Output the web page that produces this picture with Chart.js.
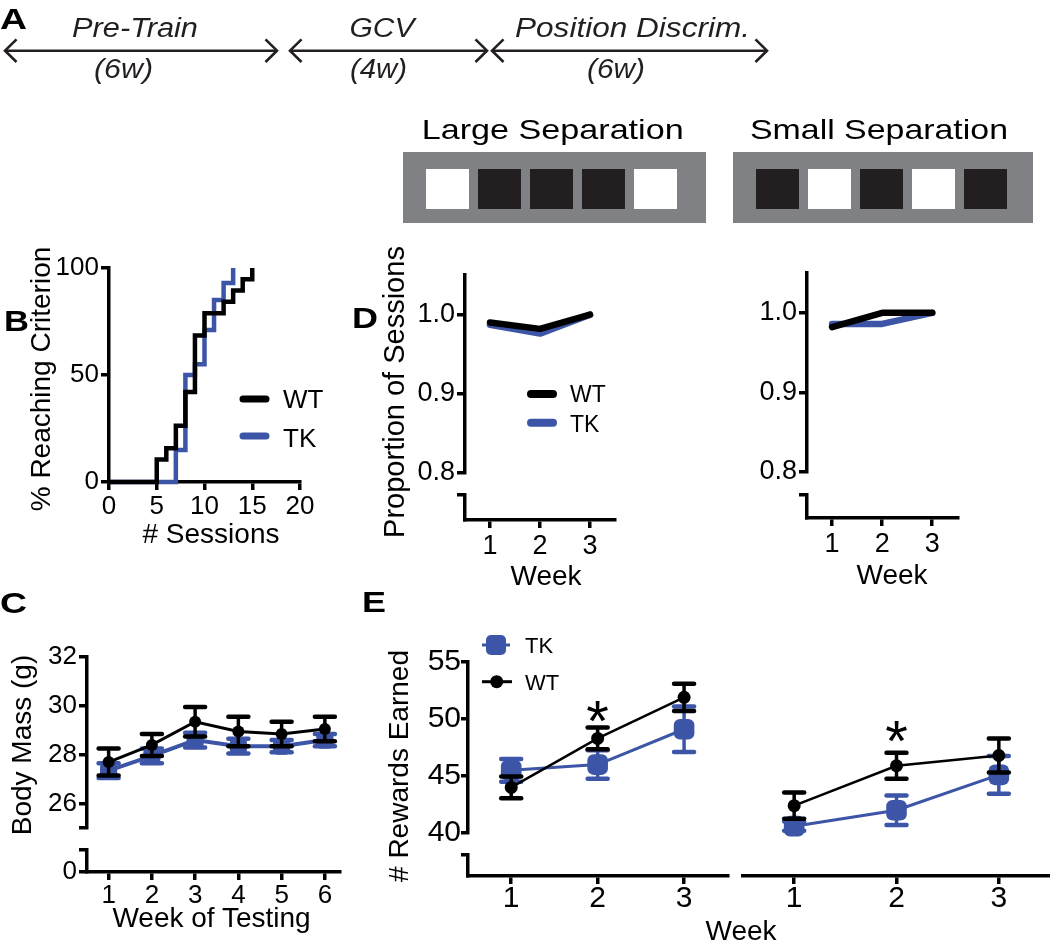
<!DOCTYPE html>
<html lang="en">
<head>
  <meta charset="UTF-8">
  <title>Position discrimination figure</title>
  <script src="https://cdn.jsdelivr.net/npm/chart.js"></script>
  <style>
    body {
      margin: 0;
      width: 1050px;
      height: 943px;
      overflow: hidden;
      position: relative;
      background: #fff;
      font-family: 'Liberation Sans', Arial, sans-serif;
    }
    canvas { position: absolute; z-index: 1; }
    #overlay { position: absolute; left: 0; top: 0; z-index: 2; pointer-events: none; }
  </style>
</head>
<body>
  <!-- static parts: timeline, task schematics, panel letters, axis titles, legends -->
  <svg id="overlay" width="1050" height="943" font-family="'Liberation Sans', Arial, sans-serif" fill="#000">
    <!-- A: timeline -->
    <text x="0" y="28.5" font-size="30" font-weight="bold" textLength="27" lengthAdjust="spacingAndGlyphs">A</text>
    <g stroke="#231f20" stroke-width="2.6" fill="none">
      <line x1="5" y1="50.7" x2="277" y2="50.7"/>
      <polyline points="16.5,39.3 5,50.7 16.5,62"/>
      <polyline points="265.5,39.3 277,50.7 265.5,62"/>
      <line x1="290" y1="50.7" x2="487" y2="50.7"/>
      <polyline points="301.5,39.3 290,50.7 301.5,62"/>
      <polyline points="475.5,39.3 487,50.7 475.5,62"/>
      <line x1="492" y1="50.7" x2="767" y2="50.7"/>
      <polyline points="503.5,39.3 492,50.7 503.5,62"/>
      <polyline points="755.5,39.3 767,50.7 755.5,62"/>
    </g>
    <g font-style="italic" font-size="27" text-anchor="middle" fill="#231f20">
      <text x="135" y="37" textLength="126" lengthAdjust="spacingAndGlyphs">Pre-Train</text>
      <text x="123.5" y="78" textLength="59" lengthAdjust="spacingAndGlyphs">(6w)</text>
      <text x="382" y="37" textLength="65" lengthAdjust="spacingAndGlyphs">GCV</text>
      <text x="378.5" y="78" textLength="57" lengthAdjust="spacingAndGlyphs">(4w)</text>
      <text x="632.5" y="37" textLength="235" lengthAdjust="spacingAndGlyphs">Position Discrim.</text>
      <text x="616" y="78" textLength="58" lengthAdjust="spacingAndGlyphs">(6w)</text>
    </g>

    <!-- task schematics -->
    <text x="421.7" y="139" font-size="28" textLength="262" lengthAdjust="spacingAndGlyphs">Large Separation</text>
    <text x="750" y="139" font-size="28" textLength="258" lengthAdjust="spacingAndGlyphs">Small Separation</text>
    <rect x="403" y="152" width="303" height="71" fill="#808184"/>
    <rect x="426" y="169" width="43" height="40" fill="#fff"/>
    <rect x="478" y="169" width="43" height="40" fill="#231f20"/>
    <rect x="530" y="169" width="43" height="40" fill="#231f20"/>
    <rect x="582" y="169" width="43" height="40" fill="#231f20"/>
    <rect x="634" y="169" width="43" height="40" fill="#fff"/>
    <rect x="733" y="152" width="300" height="71" fill="#808184"/>
    <rect x="756" y="169" width="43" height="40" fill="#231f20"/>
    <rect x="808" y="169" width="43" height="40" fill="#fff"/>
    <rect x="860" y="169" width="43" height="40" fill="#231f20"/>
    <rect x="912" y="169" width="43" height="40" fill="#fff"/>
    <rect x="964" y="169" width="43" height="40" fill="#231f20"/>

    <!-- panel letters -->
    <g font-size="30" font-weight="bold">
      <text x="4" y="331" textLength="25" lengthAdjust="spacingAndGlyphs">B</text>
      <text x="0" y="613" textLength="27" lengthAdjust="spacingAndGlyphs">C</text>
      <text x="352" y="328" textLength="26" lengthAdjust="spacingAndGlyphs">D</text>
      <text x="362" y="612" textLength="24" lengthAdjust="spacingAndGlyphs">E</text>
    </g>

    <!-- axis titles -->
    <g font-size="28" text-anchor="middle">
      <text transform="translate(50,379) rotate(-90)">% Reaching Criterion</text>
      <text x="211" y="543"># Sessions</text>
      <text transform="translate(30.7,745) rotate(-90)">Body Mass (g)</text>
      <text x="211.5" y="927">Week of Testing</text>
      <text transform="translate(404,392) rotate(-90)" font-size="29">Proportion of Sessions</text>
      <text x="546" y="585">Week</text>
      <text x="892" y="583.5">Week</text>
      <text transform="translate(408,766) rotate(-90)"># Rewards Earned</text>
      <text x="741" y="940">Week</text>
    </g>

    <!-- legends -->
    <line x1="243" y1="399" x2="266" y2="399" stroke="#000" stroke-width="7" stroke-linecap="round"/>
    <text x="283" y="408" font-size="26">WT</text>
    <line x1="243" y1="436" x2="266" y2="436" stroke="#3c55a6" stroke-width="7" stroke-linecap="round"/>
    <text x="283" y="446.7" font-size="26">TK</text>

    <line x1="531" y1="394" x2="553" y2="394" stroke="#000" stroke-width="8" stroke-linecap="round"/>
    <text x="570" y="401.7" font-size="23">WT</text>
    <line x1="531" y1="422.7" x2="553" y2="422.7" stroke="#3c55a6" stroke-width="8" stroke-linecap="round"/>
    <text x="570" y="431.7" font-size="23">TK</text>

    <line x1="482" y1="645" x2="510" y2="645" stroke="#3c55a6" stroke-width="3"/>
    <rect x="486" y="635" width="20" height="20" rx="5" fill="#3c55a6"/>
    <text x="525" y="653" font-size="22">TK</text>
    <line x1="482" y1="681.7" x2="512" y2="681.7" stroke="#000" stroke-width="3"/>
    <circle cx="496.7" cy="681.7" r="6.5" fill="#000"/>
    <text x="525" y="690" font-size="22">WT</text>
  </svg>

  <script>
    // ---- B: % of mice reaching criterion vs. sessions ----
    const sessionsWT = [0, 5, 6, 7, 8, 9, 10, 12, 13, 14, 15];
    const reachedWT  = [0, 10.5, 15.8, 26.3, 42.1, 68.4, 78.9, 84.2, 89.5, 94.7, 100];
    const sessionsTK = [0, 7, 8, 9, 10, 11, 12, 13];
    const reachedTK  = [0, 15, 50, 55, 71, 85, 93, 100];
    const ticksBx = [0, 5, 10, 15, 20];
    const ticksBy = [0, 50, 100];

    // ---- C: body mass (g) per week of testing ----
    const testWeeks = [1, 2, 3, 4, 5, 6];
    const massWT    = [27.7, 28.4, 29.35, 28.95, 28.85, 29.05];
    const massWTErr = [0.55, 0.45, 0.6, 0.6, 0.5, 0.5];
    const massTK    = [27.35, 27.95, 28.6, 28.35, 28.35, 28.6];
    const massTKErr = [0.3, 0.3, 0.3, 0.3, 0.25, 0.25];
    const ticksCy = [25, 26, 28, 30, 32];   // 25 = end of upper segment, unlabelled

    // ---- D: proportion of sessions ----
    const weeks = [1, 2, 3];
    const propLargeWT = [0.990, 0.982, 1.0];
    const propLargeTK = [0.987, 0.976, 1.0];
    const propSmallWT = [0.982, 1.0, 1.0];
    const propSmallTK = [0.986, 0.986, 1.0];
    const ticksDy = [0.8, 0.9, 1.0];

    // ---- E: rewards earned ----
    const rewLargeWT    = [44.0, 48.3, 51.9];
    const rewLargeWTErr = [0.95, 0.95, 1.2];
    const rewLargeTK    = [45.5, 46.0, 49.1];
    const rewLargeTKErr = [1.0, 1.25, 2.0];
    const rewSmallWT    = [42.4, 45.9, 46.8];
    const rewSmallWTErr = [1.15, 1.15, 1.5];
    const rewSmallTK    = [40.6, 42.0, 45.1];
    const rewSmallTKErr = [0.4, 1.3, 1.65];
    const ticksEy = [40, 45, 50, 55];
    const starLarge = { week: 2, value: 51.0 };
    const starSmall = { week: 2, value: 49.2 };

    const BLUE = '#3c55a6';
    Chart.defaults.font.family = "'Liberation Sans', Arial, sans-serif";
    Chart.defaults.color = '#000';

    // room kept round each plot area inside its canvas
    const YW = 80, PT = 25, PR = 25, XH = 60;

    const xy = (xs, ys) => xs.map((x, i) => ({ x: x, y: ys[i] }));

    // error bars drawn right after their own dataset
    const errorBars = {
      id: 'errorBars',
      afterDatasetDraw(chart, args) {
        const ds = chart.data.datasets[args.index];
        if (!ds.err) return;
        const ctx = chart.ctx, xs = chart.scales.x, ys = chart.scales.y;
        ctx.save();
        ctx.strokeStyle = ds.borderColor;
        ds.data.forEach((p, i) => {
          const px = xs.getPixelForValue(p.x);
          const hi = ys.getPixelForValue(p.y + ds.err[i]);
          const lo = ys.getPixelForValue(p.y - ds.err[i]);
          ctx.lineCap = 'butt';
          ctx.lineWidth = ds.errWidth;
          ctx.beginPath(); ctx.moveTo(px, hi); ctx.lineTo(px, lo); ctx.stroke();
          ctx.lineCap = 'round';
          ctx.lineWidth = ds.capWidth;
          [hi, lo].forEach(py => {
            ctx.beginPath(); ctx.moveTo(px - ds.capHalf, py); ctx.lineTo(px + ds.capHalf, py); ctx.stroke();
          });
        });
        ctx.restore();
      }
    };

    // significance asterisk
    const stars = {
      id: 'stars',
      afterDatasetsDraw(chart, args, opts) {
        if (!opts || opts.week === undefined) return;
        const ctx = chart.ctx;
        const px = chart.scales.x.getPixelForValue(opts.week);
        const py = chart.scales.y.getPixelForValue(opts.value);
        ctx.save();
        ctx.font = "58px 'Liberation Sans', Arial, sans-serif";
        ctx.textAlign = 'center';
        ctx.textBaseline = 'alphabetic';
        ctx.fillStyle = '#000';
        ctx.fillText('*', px, py + 0.575 * 58);
        ctx.restore();
      }
    };

    function gridOpts(tl) {
      return { drawOnChartArea: false, drawTicks: true, tickLength: tl, color: '#000', lineWidth: 3.5 };
    }

    function yAxis(min, max, vals, fmt, size, tl, pad) {
      return {
        type: 'linear', min: min, max: max,
        afterBuildTicks: s => { s.ticks = vals.map(v => ({ value: v })); },
        afterFit: s => { s.width = YW; },
        grid: gridOpts(tl),
        border: { color: '#000', width: 3.5 },
        ticks: { color: '#000', font: { size: size }, padding: pad, autoSkip: false, callback: fmt }
      };
    }

    function xAxis(min, max, vals, size, tl, pad) {
      return {
        type: 'linear', position: 'bottom', min: min, max: max,
        afterBuildTicks: s => { s.ticks = vals.map(v => ({ value: v })); },
        afterFit: s => { s.height = XH; },
        grid: gridOpts(tl),
        border: { color: '#000', width: 3.5 },
        ticks: { color: '#000', font: { size: size }, padding: pad, autoSkip: false, maxRotation: 0, callback: v => v }
      };
    }

    const hidden = (min, max) => ({ type: 'linear', min: min, max: max, display: false });

    // area = [left, top, right, bottom] of the plot area on the page
    function makeChart(id, area, xCfg, yCfg, datasets, star) {
      const [l, t, r, b] = area;
      const w = Math.round(r - l + YW + PR), h = Math.round(b - t + PT + XH);
      const canvas = document.createElement('canvas');
      canvas.id = id;
      canvas.width = w; canvas.height = h;
      canvas.style.left = (l - YW) + 'px';
      canvas.style.top = (t - PT) + 'px';
      canvas.style.width = w + 'px';
      canvas.style.height = h + 'px';
      document.body.appendChild(canvas);
      const showY = yCfg.display !== false, showX = xCfg.display !== false;
      return new Chart(canvas, {
        type: 'line',
        data: { datasets: datasets },
        options: {
          responsive: false,
          animation: false,
          events: [],
          layout: { padding: { left: showY ? 0 : YW, top: PT, right: PR + (r - l + YW + PR - w), bottom: showX ? 0 : XH } },
          scales: { x: xCfg, y: yCfg },
          elements: { line: { tension: 0 } },
          plugins: { legend: { display: false }, tooltip: { enabled: false }, stars: star || false }
        },
        plugins: [errorBars, stars]
      });
    }

    function stepLine(xs, ys, color) {
      return { data: xy(xs, ys), borderColor: color, borderWidth: 4.5, stepped: 'before',
               pointRadius: 0, fill: false, clip: false };
    }
    function propLine(ys, color) {
      return { data: xy(weeks, ys), borderColor: color, borderWidth: 6.5, pointRadius: 0, fill: false,
               borderCapStyle: 'round', borderJoinStyle: 'round', clip: false };
    }
    function errLine(xs, ys, err, color, lw, style, radius) {
      return { data: xy(xs, ys), err: err, borderColor: color, backgroundColor: color, borderWidth: lw,
               pointStyle: style, pointRadius: radius, pointBackgroundColor: color, pointBorderWidth: 0,
               errWidth: 3.5, capWidth: 4.5, capHalf: 10, fill: false, clip: false };
    }

    // ---- B ----
    makeChart('chartB', [109, 268, 300, 482],
      xAxis(0, 20, ticksBx, 26, 8, 1),
      yAxis(0, 100, ticksBy, v => v, 26, 8, 2),
      [stepLine(sessionsWT, reachedWT, '#000'), stepLine(sessionsTK, reachedTK, BLUE)]);

    // ---- C (broken y axis: upper and lower segment) ----
    makeChart('chartC', [87, 657, 340, 828],
      hidden(0.5, 6.35),
      yAxis(25, 32, ticksCy, v => (v === 25 ? '' : v), 26, 8, 2),
      [errLine(testWeeks, massWT, massWTErr, '#000', 3, 'circle', 6),
       errLine(testWeeks, massTK, massTKErr, BLUE, 4, 'rectRounded', 10)]);
    makeChart('chartC0', [87, 850, 340, 872],
      xAxis(0.5, 6.35, testWeeks, 26, 8, 0),
      yAxis(0, 1, [0, 1], v => (v === 0 ? '0' : ''), 26, 8, 2),
      []);

    // ---- D left / right ----
    makeChart('chartDL', [465, 275, 615, 473.3],
      hidden(0.5, 3.5),
      yAxis(0.8, 1.05, ticksDy, v => v.toFixed(1), 27, 8, 2),
      [propLine(propLargeWT, '#000'), propLine(propLargeTK, BLUE)]);
    makeChart('chartDL0', [465, 495, 615, 520],
      xAxis(0.5, 3.5, weeks, 27, 8, 2),
      yAxis(0, 1, [1], v => '', 27, 8, 2),
      []);
    makeChart('chartDR', [807.3, 273, 957, 472.3],
      hidden(0.5, 3.5),
      yAxis(0.8, 1.05, ticksDy, v => v.toFixed(1), 27, 8, 2),
      [propLine(propSmallWT, '#000'), propLine(propSmallTK, BLUE)]);
    makeChart('chartDR0', [807.3, 495, 957, 518.3],
      xAxis(0.5, 3.5, weeks, 27, 8, 2),
      yAxis(0, 1, [1], v => '', 27, 8, 2),
      []);

    // ---- E left / right ----
    makeChart('chartEL', [468.3, 661.7, 727, 832.3],
      hidden(0.5, 3.5),
      yAxis(40, 55, ticksEy, v => v, 30, 7, 0),
      [errLine(weeks, rewLargeWT, rewLargeWTErr, '#000', 2.5, 'circle', 6.5),
       errLine(weeks, rewLargeTK, rewLargeTKErr, BLUE, 3, 'rectRounded', 12)],
      starLarge);
    makeChart('chartEL0', [468.3, 855, 727, 876],
      xAxis(0.5, 3.5, weeks, 30, 8, -3),
      yAxis(0, 1, [1], v => '', 30, 7, 0),
      []);
    makeChart('chartER', [743, 661.7, 1050, 832.3],
      hidden(0.5, 3.5),
      hidden(40, 55),
      [errLine(weeks, rewSmallWT, rewSmallWTErr, '#000', 2.5, 'circle', 6.5),
       errLine(weeks, rewSmallTK, rewSmallTKErr, BLUE, 3, 'rectRounded', 12)],
      starSmall);
    makeChart('chartER0', [743, 855, 1050, 876],
      xAxis(0.5, 3.5, weeks, 30, 8, -3),
      hidden(0, 1),
      []);
  </script>
</body>
</html>
